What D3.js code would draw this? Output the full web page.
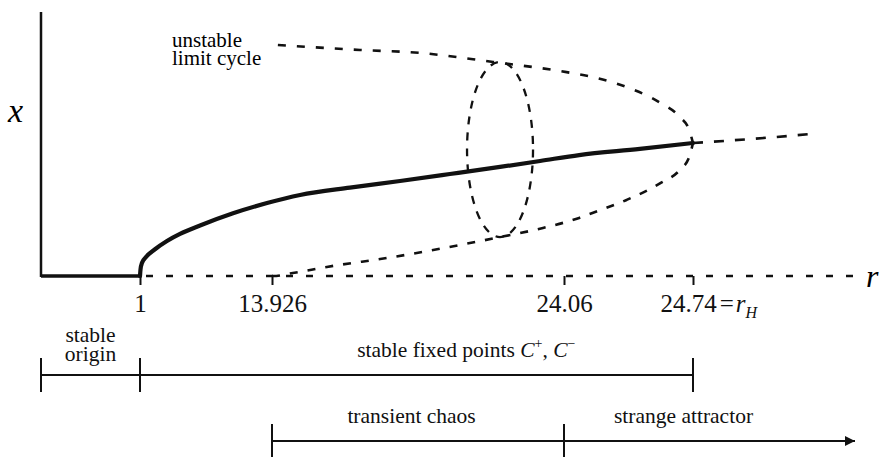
<!DOCTYPE html>
<html>
<head>
<meta charset="utf-8">
<script src="https://cdn.jsdelivr.net/npm/d3@7"></script>
<style>
  body { margin: 0; background: #fff; }
</style>
</head>
<body>
<svg id="chart" width="886" height="457"></svg>
<script>
// r values on the (schematic) axis
const tickValues = [1, 13.926, 24.06, 24.74]
const tickLabels = ['1', '13.926', '24.06', '24.74']

// stable fixed points C+, C- (thick line)
const stableR = [1, 1.05, 1.20, 1.59, 2.47, 3.64, 4.92, 6.88, 10.11, 13.44, 14.90, 16.63, 18.37, 20.10, 21.84, 23.23, 24.14, 24.46, 24.74]
const stableX = [0, 0.40, 0.80, 1.15, 1.62, 2.12, 2.55, 3.06, 3.80, 4.42, 4.91, 5.36, 5.76, 6.18, 6.61, 6.97, 7.33, 7.70, 8.06]

// unstable limit cycle, upper and lower edges
const upperR = [14.13, 16.98, 19.06, 21.60, 23.92, 24.21, 24.39, 24.57, 24.67, 24.72, 24.74]
const upperX = [14.0, 13.70, 13.52, 12.97, 12.42, 12.06, 11.45, 10.48, 9.64, 8.85, 8.06]
const lowerR = [13.926, 13.96, 14.65, 15.83, 18.13, 20.45, 21.84, 23.33, 24.14, 24.21, 24.39, 24.57, 24.67, 24.72, 24.74]
const lowerX = [0, 0, 0.18, 0.55, 1.15, 1.88, 2.36, 2.91, 3.52, 3.82, 4.61, 5.64, 6.42, 7.21, 8.06]

// unstable fixed points beyond r_H
const beyondR = [24.74, 25.89, 27.13]
const beyondX = [8.06, 8.30, 8.61]

// cycle drawn as an ellipse at this r
const cycleR = 21.84
const cycleTop = 12.97
const cycleBottom = 2.36

// regimes shown under the axis
const regimeNames = [['stable', 'origin'], ['stable fixed points'], ['transient chaos'], ['strange attractor']]
const regimeStart = [0, 1, 13.926, 24.06]
const regimeEnd = [1, 24.74, 24.06, 28]
const regimeRow = [0, 0, 1, 1]
const regimeLabelAt = [0.5, 20.67, 18.77, 24.69]

const svg = d3.select('#chart')
const serif = '"Liberation Serif", serif'

const xScale = d3.scaleLinear()
    .domain([0, 1, 13.926, 24.06, 24.74, 28])
    .range([41, 140, 272, 564, 693, 855])

const yScale = d3.scaleLinear()
    .domain([0, 16])
    .range([276, 12])

const line = d3.line()
    .x(d => xScale(d[0]))
    .y(d => yScale(d[1]))
    .curve(d3.curveMonotoneX)

const zip = (a, b) => a.map((v, i) => [v, b[i]])

// vertical x axis
svg.append('line')
    .attr('x1', xScale(0)).attr('x2', xScale(0))
    .attr('y1', yScale(0) + 1).attr('y2', yScale(16))
    .attr('stroke', '#111').attr('stroke-width', 2.5)

svg.append('text')
    .attr('x', 8).attr('y', 122)
    .style('font-family', serif)
    .style('font-style', 'italic')
    .style('font-size', '34px')
    .text('x')

// dashed r axis (origin unstable for r > 1)
svg.append('line')
    .attr('x1', xScale(1) + 6).attr('x2', xScale(28))
    .attr('y1', yScale(0)).attr('y2', yScale(0))
    .attr('stroke', '#111').attr('stroke-width', 2.5)
    .attr('stroke-dasharray', '7,13')

svg.append('text')
    .attr('x', 866).attr('y', 287)
    .style('font-family', serif)
    .style('font-style', 'italic')
    .style('font-size', '32px')
    .text('r')

const axisG = svg.append('g')
    .attr('transform', `translate(0,${yScale(0)})`)
    .call(d3.axisBottom(xScale).tickValues(tickValues)
        .tickFormat((d, i) => tickLabels[i]).tickSize(9).tickPadding(9))

axisG.attr('font-family', null)
axisG.select('.domain').remove()
axisG.selectAll('line').attr('stroke', '#111').attr('stroke-width', 2)
axisG.selectAll('text')
    .style('font-family', serif)
    .style('font-size', '25px')
    .attr('fill', '#111')

// 24.74 = r_H
const rhText = axisG.selectAll('.tick').filter(d => d === 24.74).select('text')
rhText.attr('text-anchor', 'start').attr('x', -33)
rhText.append('tspan').attr('dx', 3).text('=')
rhText.append('tspan').attr('dx', 2).style('font-style', 'italic').text('r')
rhText.append('tspan').attr('dy', 6).style('font-style', 'italic').style('font-size', '16px').text('H')

// origin branch
svg.append('line')
    .attr('x1', xScale(0)).attr('x2', xScale(1))
    .attr('y1', yScale(0)).attr('y2', yScale(0))
    .attr('stroke', '#111').attr('stroke-width', 3.5)

// unstable branches
svg.append('path')
    .attr('d', line(zip(upperR, upperX)))
    .attr('fill', 'none').attr('stroke', '#111').attr('stroke-width', 2.6)
    .attr('stroke-dasharray', '8,11')

svg.append('path')
    .attr('d', line(zip(lowerR, lowerX)))
    .attr('fill', 'none').attr('stroke', '#111').attr('stroke-width', 2.6)
    .attr('stroke-dasharray', '8,10')

svg.append('path')
    .attr('d', line(zip(beyondR, beyondX)))
    .attr('fill', 'none').attr('stroke', '#111').attr('stroke-width', 2.6)
    .attr('stroke-dasharray', '10,11')

svg.append('ellipse')
    .attr('cx', xScale(cycleR))
    .attr('cy', (yScale(cycleTop) + yScale(cycleBottom)) / 2)
    .attr('rx', 33)
    .attr('ry', (yScale(cycleBottom) - yScale(cycleTop)) / 2)
    .attr('fill', 'none').attr('stroke', '#111').attr('stroke-width', 2.3)
    .attr('stroke-dasharray', '8,8')

// stable branch
svg.append('path')
    .attr('d', line(zip(stableR, stableX)))
    .attr('fill', 'none').attr('stroke', '#111').attr('stroke-width', 4.2)
    .attr('stroke-linecap', 'round')

svg.selectAll('text.cycle')
    .data(['unstable', 'limit cycle'])
    .join('text')
    .attr('class', 'cycle')
    .attr('x', 172)
    .attr('y', (d, i) => 47 + i * 18)
    .style('font-family', serif)
    .style('font-size', '21px')
    .text(d => d)

// regime bars
const rowY = [375, 441]
const tickHalf = 17

svg.append('defs').append('marker')
    .attr('id', 'arrow')
    .attr('viewBox', '0 0 10 10')
    .attr('refX', 10).attr('refY', 5)
    .attr('markerWidth', 9).attr('markerHeight', 5)
    .attr('markerUnits', 'strokeWidth')
    .attr('orient', 'auto')
    .append('path').attr('d', 'M0,0L10,5L0,10z').attr('fill', '#111')

const regimes = regimeNames.map((n, i) => ({
    name: n, start: regimeStart[i], end: regimeEnd[i], row: regimeRow[i], at: regimeLabelAt[i], last: i === regimeNames.length - 1
}))

const rg = svg.selectAll('g.regime')
    .data(regimes)
    .join('g')
    .attr('class', 'regime')

rg.append('line')
    .attr('x1', d => xScale(d.start)).attr('x2', d => xScale(d.end))
    .attr('y1', d => rowY[d.row]).attr('y2', d => rowY[d.row])
    .attr('stroke', '#111').attr('stroke-width', 2)
    .attr('marker-end', d => d.last ? 'url(#arrow)' : null)

rg.append('line')
    .attr('x1', d => xScale(d.start)).attr('x2', d => xScale(d.start))
    .attr('y1', d => rowY[d.row] - tickHalf).attr('y2', d => rowY[d.row] + tickHalf)
    .attr('stroke', '#111').attr('stroke-width', 2)

rg.filter(d => !d.last && d.row === 0)
    .append('line')
    .attr('x1', d => xScale(d.end)).attr('x2', d => xScale(d.end))
    .attr('y1', d => rowY[d.row] - tickHalf).attr('y2', d => rowY[d.row] + tickHalf)
    .attr('stroke', '#111').attr('stroke-width', 2)

// one text per label line
const labelLines = regimes.flatMap(d => d.name.map((t, i) => ({
    t, x: xScale(d.at),
    y: rowY[d.row] - 18 + (i - (d.name.length - 1)) * 19 + (d.name.length - 1) * 4,
    fp: t === 'stable fixed points'
})))

const labels = svg.selectAll('text.regime-label')
    .data(labelLines)
    .join('text')
    .attr('class', 'regime-label')
    .attr('text-anchor', 'middle')
    .attr('x', d => d.x)
    .attr('y', d => d.y)
    .style('font-family', serif)
    .style('font-size', '21.5px')
    .attr('fill', '#111')
    .text(d => d.t)

// C+, C- after "stable fixed points"
const fp = labels.filter(d => d.fp)
fp.append('tspan').text(' ')
fp.append('tspan').style('font-style', 'italic').text('C')
fp.append('tspan').attr('dy', -9).style('font-size', '14px').text('+')
fp.append('tspan').attr('dy', 9).text(', ')
fp.append('tspan').style('font-style', 'italic').text('C')
fp.append('tspan').attr('dy', -9).style('font-size', '14px').text('\u2212')
</script>
</body>
</html>
